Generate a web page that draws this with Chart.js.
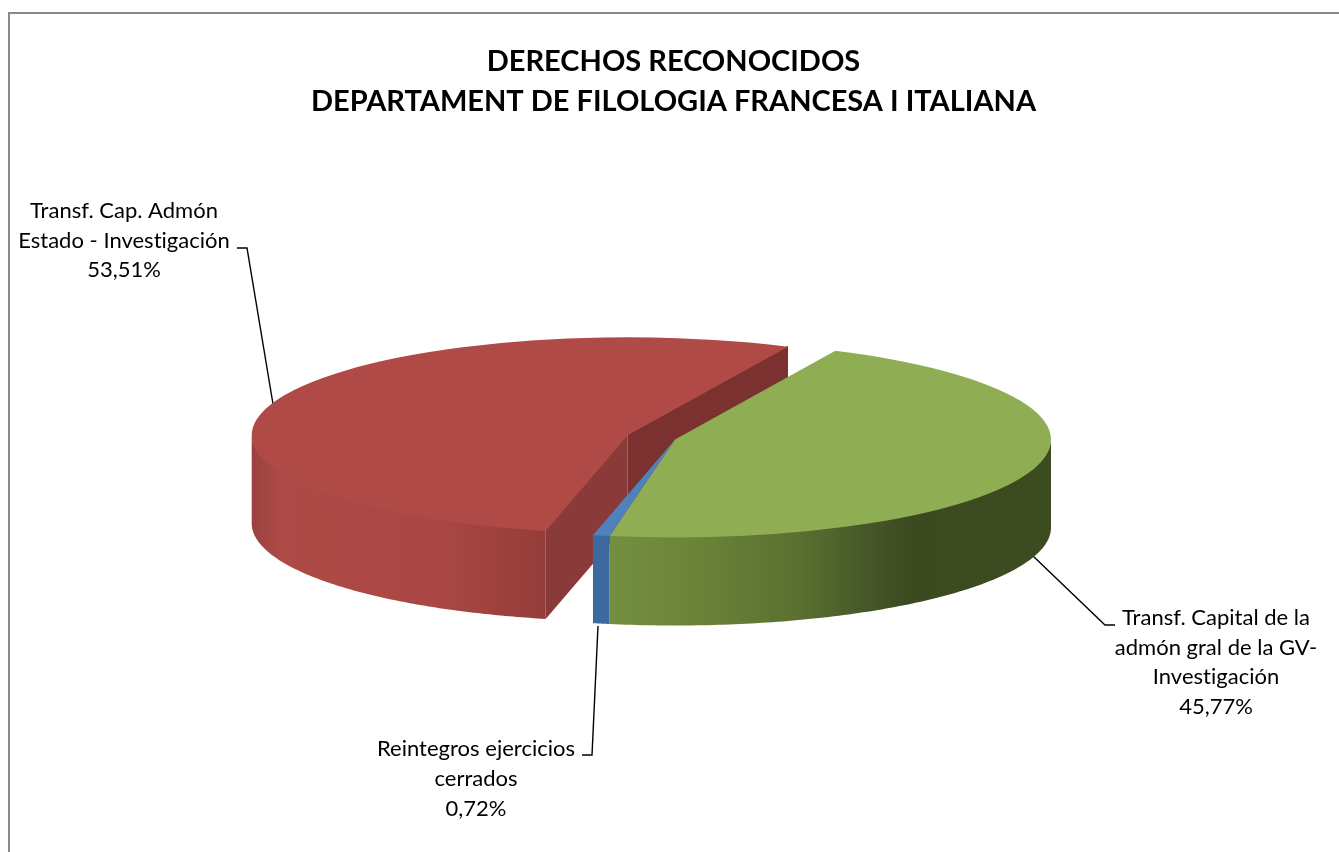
<!DOCTYPE html>
<html>
<head>
<meta charset="utf-8">
<script src="https://cdn.jsdelivr.net/npm/chart.js@4"></script>
<style>html,body{margin:0;padding:0;background:#fff}canvas{display:block}</style>
</head>
<body>
<canvas id="c" width="1339" height="852"></canvas>
<script>
const categories = ["Transf. Cap. Admón Estado - Investigación", "Transf. Capital de la admón gral de la GV-Investigación", "Reintegros ejercicios cerrados"];
const values = [53.51, 45.77, 0.72];
const titleLines = ["DERECHOS RECONOCIDOS", "DEPARTAMENT DE FILOLOGIA FRANCESA I ITALIANA"];
const labelLines = [
  ["Transf. Cap. Admón", "Estado - Investigación"],
  ["Transf. Capital de la", "admón gral de la GV-", "Investigación"],
  ["Reintegros ejercicios", "cerrados"]
];
const topColors = ["#b04a46", "#8fae54", "#4f81bd"];
const FONT = "Lato, Carlito, Calibri, sans-serif";

// Presentation of the pie (oblique view)
const view = {cx: 675, cy: 439.5, a: 376, b: 98, depth: 88, rotation: 192.6};
const explode = [50, 0, 0];
const wallStops = [
  [[0, "#9a4240"], [0.1, "#ad4a46"], [0.65, "#aa4744"], [1, "#943c39"]],
  [[0, "#748f42"], [0.2, "#6a8338"], [0.43, "#5a7030"], [0.57, "#47592a"], [0.68, "#3c4a20"], [1, "#3d4b20"]],
  [[0, "#3c6a9e"], [1, "#3c6a9e"]]
];
const faceColors = {start: "#8a3a38", end: "#7b312f"};
const labelBoxes = [
  {x: 124, y: 211, lh: 29.7},
  {x: 1216, y: 618, lh: 29.6},
  {x: 476, y: 749, lh: 30}
];
const leaders = [
  [[237, 248], [247, 248], [273, 404]],
  [[1033, 556], [1105, 625], [1115, 625]],
  [[582, 755], [592, 755], [598, 626]]
];

function pct(v) { return v.toFixed(2).replace(".", ",") + "%"; }

const pie3d = {
  id: "pie3d",
  beforeDraw(chart) {
    const ctx = chart.ctx;
    ctx.save();
    ctx.fillStyle = "#fff";
    ctx.fillRect(0, 0, chart.width, chart.height);
    ctx.strokeStyle = "#8a8a8a";
    ctx.lineWidth = 2;
    ctx.beginPath();
    ctx.moveTo(9, 853); ctx.lineTo(9, 13); ctx.lineTo(1340, 13);
    ctx.stroke();
    ctx.restore();
  },
  beforeDatasetsDraw(chart) {
    const ctx = chart.ctx;
    const arcs = chart.getDatasetMeta(0).data;
    const R = arcs[0].outerRadius, ox = arcs[0].x, oy = arcs[0].y;
    const sx = view.a / R, sy = view.b / R;

    // leader lines lie behind the pie
    ctx.save();
    ctx.strokeStyle = "#000";
    ctx.lineWidth = 1.4;
    leaders.forEach(l => {
      ctx.beginPath();
      l.forEach((p, i) => i ? ctx.lineTo(p[0], p[1]) : ctx.moveTo(p[0], p[1]));
      ctx.stroke();
    });

    // walls, computed from the angles the library gave each arc
    arcs.forEach((arc, i) => {
      const half = (arc.startAngle + arc.endAngle) / 2;
      const ccx = view.cx + Math.cos(half) * explode[i];
      const ccy = view.cy + Math.sin(half) * explode[i] * view.b / view.a;
      const P = t => [ccx + view.a * Math.cos(t), ccy + view.b * Math.sin(t)];
      const up = p => [p[0], p[1] - 1];
      const down = p => [p[0], p[1] + view.depth];
      const poly = (pts, fill) => {
        ctx.beginPath();
        pts.forEach((p, k) => k ? ctx.lineTo(p[0], p[1]) : ctx.moveTo(p[0], p[1]));
        ctx.closePath();
        ctx.fillStyle = fill;
        ctx.fill();
      };
      if (explode[i]) {
        const c = [ccx, ccy];
        poly([up(c), up(P(arc.endAngle)), down(P(arc.endAngle)), down(c)], faceColors.end);
        poly([up(c), up(P(arc.startAngle)), down(P(arc.startAngle)), down(c)], faceColors.start);
      }
      [[0, Math.PI], [2 * Math.PI, 3 * Math.PI]].forEach(([lo, hi]) => {
        const s = Math.max(arc.startAngle, lo), e = Math.min(arc.endAngle, hi);
        if (e <= s) return;
        const rim = [];
        const n = 120;
        for (let k = 0; k <= n; k++) rim.push(P(s + (e - s) * k / n));
        const xs = rim.map(p => p[0]);
        const g = ctx.createLinearGradient(Math.min(...xs), 0, Math.max(...xs), 0);
        wallStops[i].forEach(st => g.addColorStop(st[0], st[1]));
        poly(rim.map(up).concat(rim.map(down).reverse()), g);
      });
      // the top of each slice: the library's own arc under the oblique view
      if (!arc._wrapped) {
        const base = arc.draw;
        arc.draw = function (c2) {
          c2.save();
          c2.translate(view.cx + Math.cos(half) * explode[i], view.cy + Math.sin(half) * explode[i] * view.b / view.a);
          c2.scale(sx, sy);
          c2.translate(-ox, -oy);
          base.call(this, c2);
          c2.restore();
        };
        arc._wrapped = true;
      }
    });
    ctx.restore();
  },
  afterDraw(chart) {
    const ctx = chart.ctx;
    ctx.save();
    ctx.fillStyle = "#000";
    ctx.textAlign = "center";
    ctx.textBaseline = "middle";
    ctx.font = "22px " + FONT;
    ctx.letterSpacing = "0.01px";
    labelBoxes.forEach((b, i) => {
      const lines = labelLines[i].concat(pct(values[i]));
      lines.forEach((t, k) => ctx.fillText(t, b.x, b.y + k * b.lh));
    });
    ctx.restore();
  }
};

new Chart(document.getElementById("c"), {
  type: "pie",
  data: {
    labels: categories,
    datasets: [{
      data: values,
      backgroundColor: topColors,
      borderWidth: 0,
      hoverOffset: 0,
      clip: false
    }]
  },
  options: {
    responsive: false,
    animation: false,
    rotation: view.rotation,
    radius: 300,
    layout: {padding: {left: 8}},
    events: [],
    plugins: {
      legend: {display: false},
      tooltip: {enabled: false},
      title: {
        display: true,
        text: titleLines,
        color: "#000",
        font: {family: FONT, size: 29, weight: "bold", lineHeight: 1.38},
        padding: {top: 42, bottom: 20}
      }
    }
  },
  plugins: [pie3d]
});
</script>
</body>
</html>
